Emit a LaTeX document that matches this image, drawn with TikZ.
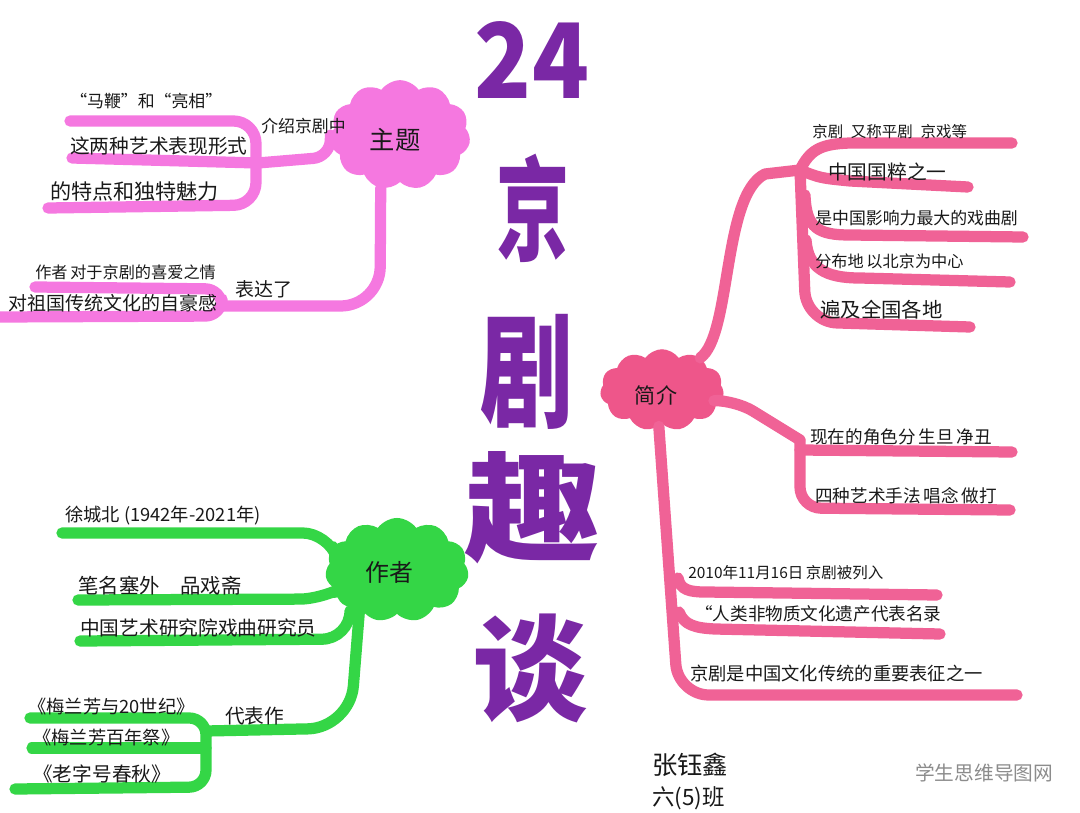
\documentclass[tikz,border=0pt]{standalone}
\usepackage{fontspec}
\usepackage{graphicx}
\setmainfont{Noto Sans CJK SC}
\usetikzlibrary{shapes.symbols}

\definecolor{topicpink}{RGB}{245,120,224}
\definecolor{intropink}{RGB}{240,98,150}
\definecolor{introcloud}{RGB}{238,86,138}
\definecolor{authorgreen}{RGB}{52,214,70}
\definecolor{titlepurple}{RGB}{122,40,165}
\definecolor{ink}{RGB}{25,25,25}

\begin{document}
\begin{tikzpicture}[x=0.025cm, y=-0.025cm,
  hand/.style={font=\fontsize{#1}{#1}\selectfont, text=ink, inner sep=0pt, anchor=west},
  big/.style={font=\fontsize{#1}{#1}\selectfont\bfseries, text=titlepurple, inner sep=0pt},
  blob/.style={cloud, cloud puffs=11, cloud puff arc=110, cloud ignores aspect,
    fill=#1, draw=none, inner sep=0pt},
  branch/.style={draw=#1, line width=8pt, line cap=round, line join=round}]

  \fill[white] (0,0) rectangle (1080,813);
  \useasboundingbox (0,0) rectangle (1080,813);

  % title
  \node[big=74pt] (t24) at (532,60) {\scalebox{0.9}[1]{24}};
  \node[big=80pt] (tjing) at (533,208) {\scalebox{0.65}[1]{京}};
  \node[big=88pt] (tju) at (527,372) {\scalebox{0.75}[1]{剧}};
  \node[big=84pt] (tqu) at (532,508) {\scalebox{1.15}[1]{趣}};
  \node[big=82pt] (ttan) at (530,668) {谈};

  % clouds
  \node[blob=topicpink, minimum width=100, minimum height=78] (zt) at (400,135) {};
  \node[blob=introcloud, minimum width=88, minimum height=58] (jj) at (662,390) {};
  \node[blob=authorgreen, minimum width=102, minimum height=74] (zz) at (397,570) {};
  \node[hand=18pt, anchor=center] (ztl) at (395,140) {主题};
  \node[hand=15pt, anchor=center] (jjl) at (656,395) {简介};
  \node[hand=17pt, anchor=center] (zzl) at (389,572) {作者};

  % topic branches
  \coordinate (zfa) at (258,163);
  \draw[branch=topicpink, rounded corners=12] (zfa) -- (330,157) -- (zt.west);
  \draw[branch=topicpink, rounded corners=16] (70,121) -- (256,121) -- (256,205) -- (48,208);
  \draw[branch=topicpink] (72,158) -- (zfa);
  \draw[branch=topicpink, rounded corners=28] (zt.250) -- (380,306) -- (222,306);
  \draw[branch=topicpink, rounded corners=12] (35,287) -- (222,289) -- (222,316) -- (0,317);

  \node[hand=12pt] (ztmb) at (70,101) {“马鞭”和“亮相”};
  \node[hand=14pt] (ztxs) at (70,146) {这两种艺术表现形式};
  \node[hand=15pt] (ztmf) at (50,191) {的特点和独特魅力};
  \node[hand=12pt] (ztjs) at (261,126) {介绍京剧中};
  \node[hand=11.5pt] (ztxa) at (35,272) {作者\,对于京剧的喜爱之情};
  \node[hand=13.5pt] (ztzh) at (8,303) {对祖国传统文化的自豪感};
  \node[hand=13.5pt] (ztbd) at (235,289) {表达了};

  % intro branches
  \coordinate (jfa) at (800,170);
  \coordinate (jfb) at (800,440);
  \draw[branch=intropink] (jj.40) .. controls (732,335) and (722,195) .. (765,174) -- (jfa);
  \draw[branch=intropink] (jfa) .. controls (810,150) and (820,144) .. (850,143) -- (1012,143);
  \draw[branch=intropink] (jfa) .. controls (820,178) .. (850,181) -- (968,187);
  \draw[branch=intropink, rounded corners=22] (jfa) -- (806,322) -- (970,327);
  \draw[branch=intropink] (805,195) .. controls (806,228) and (818,235) .. (850,235) -- (1023,237);
  \draw[branch=intropink] (806,240) .. controls (808,268) and (825,278) .. (860,278) -- (1010,282);
  \draw[branch=intropink, rounded corners=15] (jj.-10) -- (735,400) -- (jfb);
  \draw[branch=intropink, rounded corners=15] (jfb) -- (800,508) -- (1010,510);
  \draw[branch=intropink] (800,450) -- (1012,452);
  \draw[branch=intropink, rounded corners=22] (jj.265) -- (678,695) -- (1017,695);
  \draw[branch=intropink] (678,578) .. controls (680,590) and (690,592) .. (705,592) -- (937,595);
  \draw[branch=intropink] (679,612) .. controls (684,625) and (695,628) .. (715,629) -- (940,634);

  \node[hand=11pt] (jjyc) at (812,132) {京剧\enspace 又称平剧\enspace 京戏等};
  \node[hand=14pt] (jjgc) at (828,172) {中国国粹之一};
  \node[hand=12pt] (jjxq) at (815,218) {是中国影响力最大的戏曲剧};
  \node[hand=11.5pt] (jjfb) at (815,261) {分布地\,以北京为中心};
  \node[hand=14.5pt] (jjbj) at (820,310) {遍及全国各地};
  \node[hand=12.5pt] (jjjs) at (810,437) {现在的角色分\,生旦\,净丑};
  \node[hand=12.5pt] (jjsf) at (815,496) {四种艺术手法\,唱念\,做打};
  \node[hand=11pt] (jjlr) at (688,573) {2010年11月16日\,京剧被列入};
  \node[hand=12.5pt] (jjml) at (695,614) {“人类非物质文化遗产代表名录};
  \node[hand=13pt] (jjbz) at (690,673) {京剧是中国文化传统的重要表征之一};

  % author branches
  \draw[branch=authorgreen, rounded corners=18] (62,533) -- (328,533) -- (zz.160);
  \draw[branch=authorgreen, rounded corners=18] (78,600) -- (325,599) -- (zz.200);
  \draw[branch=authorgreen, rounded corners=30] (zz.225) -- (350,728) -- (206,731);
  \draw[branch=authorgreen, rounded corners=20] (80,641) -- (350,639) -- (350,612);
  \draw[branch=authorgreen, rounded corners=12] (30,718) -- (206,718) -- (206,787) -- (15,789);
  \draw[branch=authorgreen] (32,748) -- (206,748);

  \node[hand=13pt] (zzxc) at (65,516) {徐城北 (1942年-2021年)};
  \node[hand=14.5pt] (zzbm) at (78,586) {笔名塞外\quad 品戏斋};
  \node[hand=14pt] (zzyj) at (80,628) {中国艺术研究院戏曲研究员};
  \node[hand=14pt] (zzdb) at (225,716) {代表作};
  \node[hand=13pt] (zzml) at (28,707) {《梅兰芳与20世纪》};
  \node[hand=13pt] (zzbn) at (33,738) {《梅兰芳百年祭》};
  \node[hand=14pt] (zzlz) at (33,774) {《老字号春秋》};

  % signature and mark
  \node[hand=18pt] (sgname) at (652,765) {张钰鑫};
  \node[hand=16pt] (sgclass) at (652,798) {六(5)班};
  \node[hand=14pt, text=black!45] (mark) at (915,773) {学生思维导图网};
\end{tikzpicture}
\end{document}
